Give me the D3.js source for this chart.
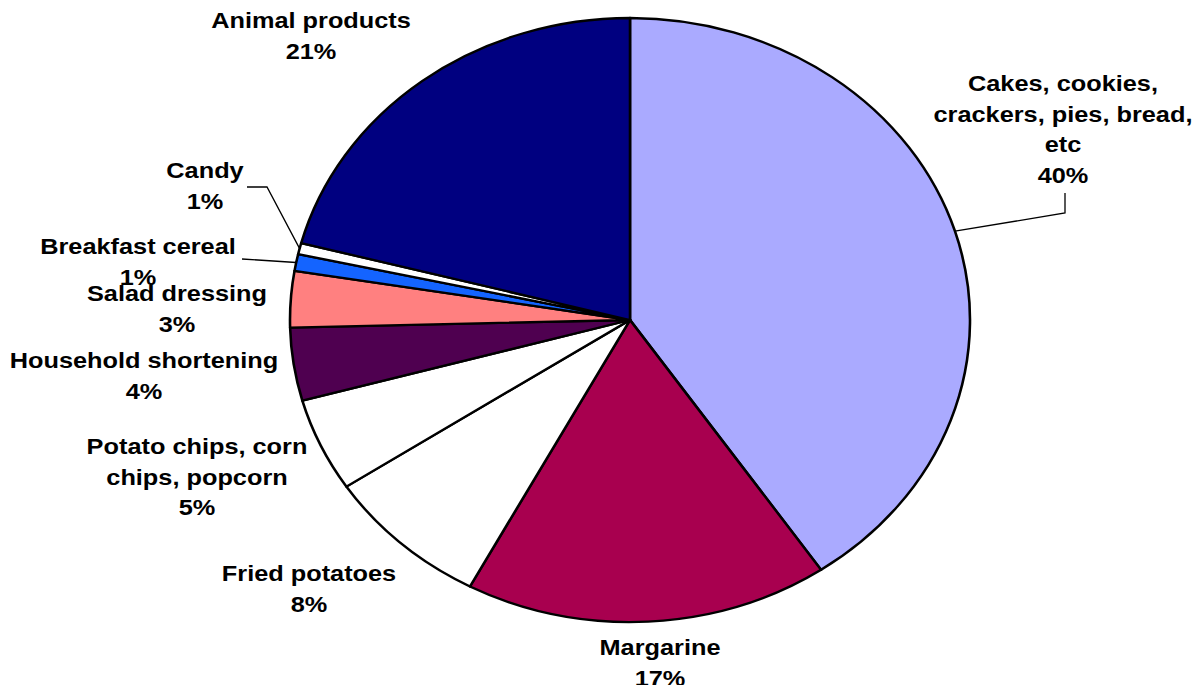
<!DOCTYPE html>
<html>
<head>
<meta charset="utf-8">
<script src="https://cdn.jsdelivr.net/npm/d3@7"></script>
<style>
  body { margin: 0; background: #fff; }
  text { font-family: "Liberation Sans", Arial, sans-serif; font-weight: bold; fill: #000; }
</style>
</head>
<body>
<svg id="chart"></svg>
<script>
// data (shares)
const categories = ['Cakes, cookies, crackers, pies, bread, etc', 'Margarine', 'Fried potatoes',
  'Potato chips, corn chips, popcorn', 'Household shortening', 'Salad dressing',
  'Breakfast cereal', 'Candy', 'Animal products'];
const shares = [40.5, 17.3, 7.9, 5.0, 3.9, 3.0, 0.9, 0.6, 20.9];
const percentLabels = ['40%', '17%', '8%', '5%', '4%', '3%', '1%', '1%', '21%'];
const labelLines = [
  ['Cakes, cookies,', 'crackers, pies, bread,', 'etc'],
  ['Margarine'], ['Fried potatoes'], ['Potato chips, corn', 'chips, popcorn'],
  ['Household shortening'], ['Salad dressing'], ['Breakfast cereal'], ['Candy'], ['Animal products']
];
const colors = ['#aaaaff', '#a8004f', '#ffffff', '#ffffff', '#4f0050', '#ff8080', '#1464ff', '#ffffff', '#000080'];

async function buildChart() {
    const width = 1197;
    const height = 685;
    const svg = d3.select('#chart').attr('width', width).attr('height', height);

    // the original pie is stretched sideways, so draw a circle and scale x
    const cx = 630, cy = 320, r = 302, sx = 340 / 302;
    const g = svg.append('g').attr('transform', `translate(${cx},${cy}) scale(${sx},1)`);

    const pie = d3.pie().sort(null).value(d => d);
    const arcs = pie(shares);
    const arc = d3.arc().innerRadius(0).outerRadius(r);

    g.selectAll('path.slice')
        .data(arcs)
        .enter()
        .append('path')
        .attr('class', 'slice')
        .attr('d', arc)
        .attr('fill', (d, i) => colors[i])
        .attr('stroke', '#000')
        .attr('stroke-width', 2.3)
        .attr('stroke-linejoin', 'round');

    // label centres in page pixels (layout only)
    const labelPos = [[1063, 83], [660, 647], [309, 573], [197, 446], [144, 360],
                      [177, 293], [138, 246], [205, 170], [311, 20]];
    const lineGap = 30.5;

    const edge = (d) => {
        const a = (d.startAngle + d.endAngle) / 2;
        return [r * Math.sin(a), -r * Math.cos(a)];
    };
    const toLocal = (p) => [(p[0] - cx) / sx, p[1] - cy];

    // leader lines for the labels that sit away from their slice
    const leaders = [
        { i: 0, pts: [[1065, 193], [1065, 213]] },
        { i: 7, pts: [[247, 187], [267, 187]] },
        { i: 6, pts: [[242, 259]] }
    ];
    leaders.forEach(l => {
        const pts = l.pts.map(toLocal).concat([edge(arcs[l.i])]);
        g.append('path')
            .attr('d', d3.line()(pts))
            .attr('fill', 'none')
            .attr('stroke', '#000')
            .attr('stroke-width', 1.3)
            .attr('vector-effect', 'non-scaling-stroke');
    });

    categories.forEach((c, i) => {
        const lines = labelLines[i].concat([percentLabels[i]]);
        const p = toLocal(labelPos[i]);
        const t = g.append('text')
            .attr('text-anchor', 'middle')
            .attr('font-size', 22.5);
        lines.forEach((s, k) => {
            t.append('tspan')
                .attr('x', p[0])
                .attr('y', p[1] + k * lineGap)
                .attr('dy', '0.36em')
                .text(s);
        });
    });
}

buildChart();
</script>
</body>
</html>
